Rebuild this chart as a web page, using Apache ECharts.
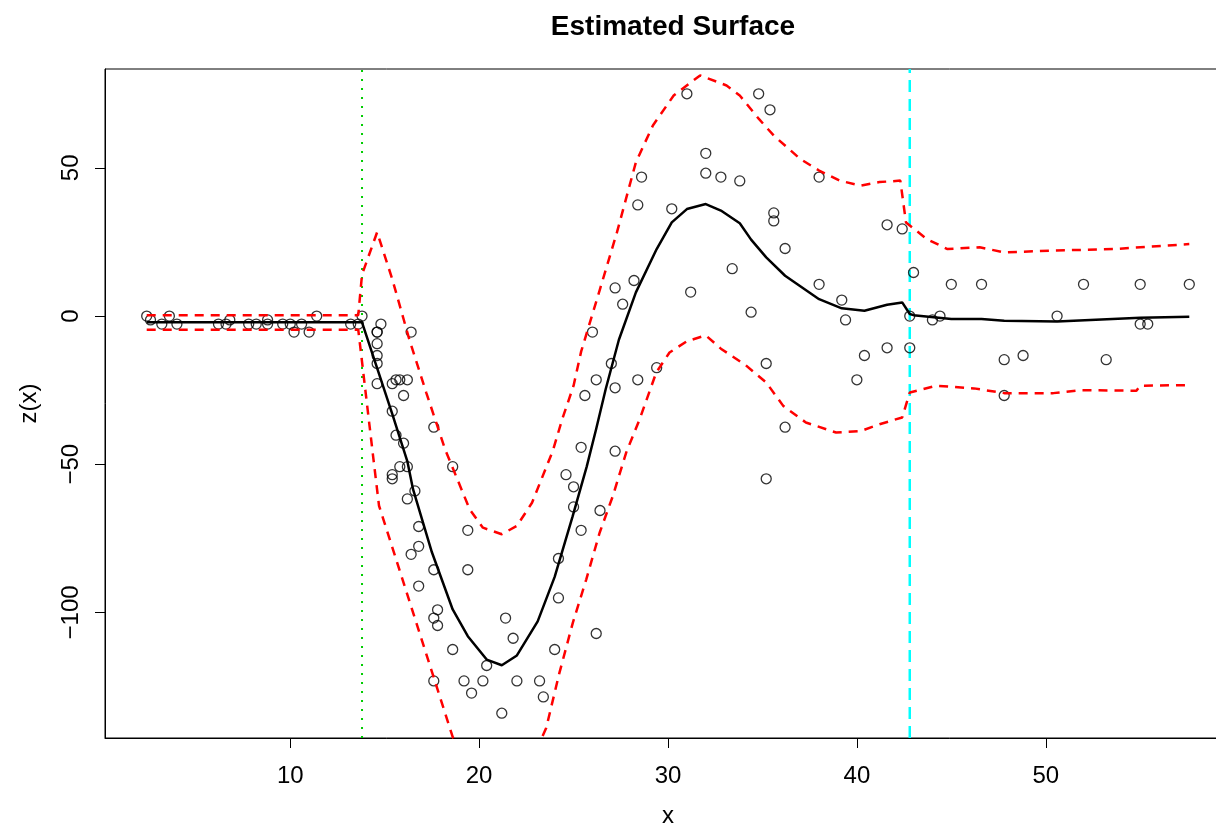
<!DOCTYPE html>
<html>
<head>
<meta charset="utf-8">
<script src="https://cdn.jsdelivr.net/npm/echarts@6/dist/echarts.min.js"></script>
<style>html,body{margin:0;padding:0;background:#fff;overflow:hidden;width:1216px;height:831px;}#c{width:1240px;height:831px;}</style>
</head>
<body>
<div id="c"></div>
<script>
// Observed points (x = time, z = acceleration)
const times = [2.4,2.6,3.2,3.6,4.0,6.2,6.6,6.8,7.8,8.2,8.8,8.8,9.6,10.0,10.2,10.6,11.0,11.4,13.2,13.6,13.8,14.6,14.6,14.6,14.6,14.6,14.6,14.8,15.4,15.4,15.4,15.4,15.6,15.6,15.8,15.8,16.0,16.0,16.2,16.2,16.2,16.4,16.4,16.6,16.8,16.8,16.8,17.6,17.6,17.6,17.6,17.8,17.8,18.6,18.6,19.2,19.4,19.4,19.6,20.2,20.4,21.2,21.4,21.8,22.0,23.2,23.4,24.0,24.2,24.2,24.6,25.0,25.0,25.4,25.4,25.6,26.0,26.2,26.2,26.4,27.0,27.2,27.2,27.2,27.6,28.2,28.4,28.4,28.6,29.4,30.2,31.0,31.2,32.0,32.0,32.8,33.4,33.8,34.4,34.8,35.2,35.2,35.4,35.6,35.6,36.2,36.2,38.0,38.0,39.2,39.4,40.0,40.4,41.6,41.6,42.4,42.8,42.8,43.0,44.0,44.4,45.0,46.6,47.8,47.8,48.8,50.6,52.0,53.2,55.0,55.0,55.4,57.6];
const accel = [0.0,-1.3,-2.7,0.0,-2.7,-2.7,-2.7,-1.3,-2.7,-2.7,-1.3,-2.7,-2.7,-2.7,-5.4,-2.7,-5.4,0.0,-2.7,-2.7,0.0,-13.3,-5.4,-5.4,-9.3,-16.0,-22.8,-2.7,-22.8,-32.1,-53.5,-54.9,-40.2,-21.5,-21.5,-50.8,-42.9,-26.8,-21.5,-50.8,-61.7,-5.4,-80.4,-59.0,-71.0,-91.1,-77.7,-37.5,-85.6,-123.1,-101.9,-99.1,-104.4,-112.5,-50.8,-123.1,-85.6,-72.3,-127.2,-123.1,-117.9,-134.0,-101.9,-108.7,-123.1,-123.1,-128.5,-112.5,-95.1,-81.8,-53.5,-64.4,-57.6,-72.3,-44.3,-26.8,-5.4,-107.1,-21.5,-65.6,-16.0,-45.6,-24.2,9.5,4.0,12.0,-21.5,37.5,46.9,-17.4,36.2,75.0,8.1,54.9,48.2,46.9,16.0,45.6,1.3,75.0,-16.0,-54.9,69.6,34.8,32.1,-37.5,22.8,46.9,10.7,5.4,-1.3,-21.5,-13.3,30.8,-10.7,29.4,0.0,-10.7,14.7,-1.3,0.0,10.7,10.7,-26.8,-14.7,-13.3,0.0,10.7,-14.7,-2.7,10.7,-2.7,10.7];

// Estimated surface
const fitX = [2.4,13.8,15.4,16.2,16.5,17.5,18.6,19.4,20.4,21.2,22.0,23.1,24.0,24.95,25.7,26.2,26.7,27.4,28.3,29.4,30.2,31.0,32.0,32.8,33.8,34.4,35.2,36.2,38.0,39.2,40.4,41.6,42.4,42.8,43.0,45.0,46.6,47.8,50.6,55.0,57.6];
const fitY = [-2.1,-2.1,-33,-49,-58.4,-79.7,-99,-108,-115.9,-117.8,-114.5,-103,-88,-67.6,-50.7,-38,-24.7,-8,8,22.6,31.6,36.1,37.8,35.6,31.3,25.8,19.8,13.6,5.7,2.6,1.8,3.8,4.6,0.7,0.3,-1.0,-1.0,-1.6,-1.8,-0.6,-0.2];

// Upper band
const upperX = [2.4,13.6,13.8,14.6,15.4,16.0,16.3,17.2,18.2,19.5,20.2,21.2,22.0,22.8,23.9,24.4,25.0,25.4,26.4,27.3,28.3,29.2,30.3,31.7,33.1,33.8,34.8,35.6,37.0,38.0,39.1,40.2,41.2,42.3,42.6,43.7,44.8,46.5,47.8,50.4,53.6,57.6];
const upperY = [0.3,0.3,14,28.3,12.5,-1,-7.8,-25.8,-45,-65.2,-71.4,-73.6,-70.8,-63,-45.5,-34.8,-23.5,-12,9.1,28.3,51.9,64.3,74.4,81.2,77.8,74.4,66.6,60.9,53,49.1,45.7,44,45.2,45.7,31.6,26,22.6,23.2,21.5,22.1,22.6,24.3];

// Lower band
const lowerX = [2.4,13.6,13.7,14.4,14.7,16.2,17.6,18.6,20.2,21.2,22.0,23.2,23.55,24.25,24.96,25.67,26.38,27.08,27.79,28.5,29.38,30.08,31.0,32.0,32.8,34.1,35.2,36.1,37.3,38.9,40.2,41.2,42.4,42.8,44.2,46.2,47.8,50.4,51.8,54.8,55.0,57.6];
const lowerY = [-4.6,-4.6,-10,-48,-64,-94,-122,-142,-158,-162,-158,-144,-139,-120.4,-103.5,-88.9,-73.1,-60.7,-46,-34.8,-19,-12.3,-8.5,-6.5,-11,-16.5,-22.4,-30.3,-35.9,-39.3,-38.8,-36.5,-34.2,-25.8,-23.5,-24.4,-26,-26,-25,-25.2,-23.5,-23.3];

// Reference lines and ticks
const vGreenX = 13.8;
const vCyanX = 42.8;
const xTicks = [10,20,30,40,50];
const yTicks = [-100,-50,0,50];

const zip = (a, b) => a.map((v, i) => [v, b[i]]);
const xMin = 0.192, xMax = 59.808, yMin = -142.36, yMax = 83.36;
const fam = '"Liberation Sans", Arial, Helvetica, sans-serif';
const fmt = v => (v < 0 ? '\u2212' + Math.abs(v) : String(v));

const chart = echarts.init(document.getElementById('c'), null, {renderer: 'canvas'});
chart.setOption({
  animation: false,
  backgroundColor: '#fff',
  title: {
    text: 'Estimated Surface',
    left: 668, top: 8, textAlign: 'center',
    textStyle: {fontFamily: fam, fontWeight: 'bold', fontSize: 28, color: '#000'}
  },
  grid: {left: 105, top: 69, height: 669, width: 1126, show: true, borderColor: '#000', borderWidth: 1, backgroundColor: 'transparent', containLabel: false, outerBoundsMode: 'none'},
  xAxis: {
    type: 'value', min: xMin, max: xMax,
    name: 'x', nameLocation: 'middle', nameGap: 66,
    nameTextStyle: {fontFamily: fam, fontSize: 24, color: '#000'},
    axisLine: {show: true, onZero: false, lineStyle: {color: '#000', width: 1}},
    axisTick: {show: true, inside: false, length: 10, customValues: xTicks, lineStyle: {color: '#000'}},
    axisLabel: {customValues: xTicks, margin: 26, fontFamily: fam, fontSize: 24, color: '#000', formatter: fmt},
    splitLine: {show: false}
  },
  yAxis: {
    type: 'value', min: yMin, max: yMax,
    name: 'z(x)', nameLocation: 'middle', nameGap: 64, nameRotate: 90,
    nameTextStyle: {fontFamily: fam, fontSize: 24, color: '#000'},
    axisLine: {show: true, onZero: false, lineStyle: {color: '#000', width: 1}},
    axisTick: {show: true, inside: false, length: 10, customValues: yTicks, lineStyle: {color: '#000'}},
    axisLabel: {customValues: yTicks, rotate: 90, margin: 22, fontFamily: fam, fontSize: 24, color: '#000', formatter: fmt},
    splitLine: {show: false}
  },
  series: [
    {
      type: 'scatter', data: zip(times, accel), symbol: 'circle', symbolSize: 10,
      itemStyle: {color: 'rgba(0,0,0,0)', borderColor: '#000', borderWidth: 1.3}, z: 3
    },
    {
      type: 'line', data: zip(fitX, fitY), showSymbol: false, symbol: 'none', clip: true,
      lineStyle: {color: '#000', width: 2.5}, z: 4
    },
    {
      type: 'line', data: zip(upperX, upperY), symbol: 'none', clip: true,
      lineStyle: {color: '#ff0000', width: 2.5, type: [9, 7]}, z: 4
    },
    {
      type: 'line', data: zip(lowerX, lowerY), symbol: 'none', clip: true,
      lineStyle: {color: '#ff0000', width: 2.5, type: [9, 7]}, z: 4
    },
    {
      type: 'line', data: [[vGreenX, yMin], [vGreenX, yMax]], symbol: 'none', clip: true,
      lineStyle: {color: '#00cd00', width: 2, type: [2, 7]}, z: 2
    },
    {
      type: 'line', data: [[vCyanX, yMin], [vCyanX, yMax]], symbol: 'none', clip: true,
      lineStyle: {color: '#00ffff', width: 2.5, type: [12, 7]}, z: 2
    }
  ]
});
</script>
</body>
</html>
